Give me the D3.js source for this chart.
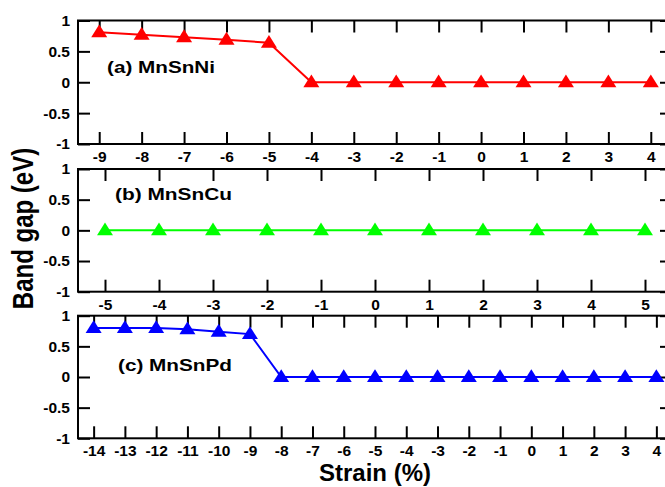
<!DOCTYPE html>
<html>
<head>
<meta charset="utf-8">
<script src="https://cdn.jsdelivr.net/npm/d3@7"></script>
<style>
  html, body { margin: 0; padding: 0; background: #fff; }
  svg { display: block; }
  text { font-family: "Liberation Sans", Arial, Helvetica, sans-serif; font-weight: bold; fill: #000; }
</style>
</head>
<body>
<svg id="chart" width="665" height="487"></svg>
<script>
// ---- Data ----
const strainA = [-9, -8, -7, -6, -5, -4, -3, -2, -1, 0, 1, 2, 3, 4];
const gapA    = [0.81, 0.77, 0.73, 0.69, 0.64, 0, 0, 0, 0, 0, 0, 0, 0, 0];

const strainB = [-5, -4, -3, -2, -1, 0, 1, 2, 3, 4, 5];
const gapB    = [0, 0, 0, 0, 0, 0, 0, 0, 0, 0, 0];

const strainC = [-14, -13, -12, -11, -10, -9, -8, -7, -6, -5, -4, -3, -2, -1, 0, 1, 2, 3, 4];
const gapC    = [0.80, 0.80, 0.80, 0.78, 0.74, 0.70, 0, 0, 0, 0, 0, 0, 0, 0, 0, 0, 0, 0, 0];

const yTicks      = [-1, -0.5, 0, 0.5, 1];
const yTickLabels = ["-1", "-0.5", "0", "0.5", "1"];

const panelLabels = ["(a) MnSnNi", "(b) MnSnCu", "(c) MnSnPd"];
const seriesColors = ["#ff0000", "#00ff00", "#0000ff"];
const xTitle = "Strain (%)";
const yTitle = "Band gap (eV)";

// ---- Layout ----
const svg = d3.select("#chart");
const xLeft = 78, xRight = 672;
const panels = [
  { strain: strainA, gap: gapA, domain: [-9.5, 4.5],  top: 20.5,  bottom: 144,   label: panelLabels[0], color: seriesColors[0], lx: 107, ly: 73,  lw: 108 },
  { strain: strainB, gap: gapB, domain: [-5.5, 5.5],  top: 169,   bottom: 291.7, label: panelLabels[1], color: seriesColors[1], lx: 115, ly: 200, lw: 117 },
  { strain: strainC, gap: gapC, domain: [-14.5, 4.5], top: 315.7, bottom: 438.3, label: panelLabels[2], color: seriesColors[2], lx: 118, ly: 371, lw: 114 }
];

const triangle = {
  draw(ctx) {
    ctx.moveTo(0, -7.8);
    ctx.lineTo(8, 5);
    ctx.lineTo(-8, 5);
    ctx.closePath();
  }
};

const fmtY = d => yTickLabels[yTicks.indexOf(d)];
const fmtX = d => String(d).replace("\u2212", "-");

panels.forEach(p => {
  const x = d3.scaleLinear().domain(p.domain).range([xLeft, xRight]);
  const y = d3.scaleLinear().domain([-1, 1]).range([p.bottom, p.top]);
  const g = svg.append("g");

  // axes
  const styleAxis = sel => {
    sel.select(".domain").remove();
    sel.selectAll(".tick line").attr("stroke", "#000").attr("stroke-width", 2);
    sel.selectAll(".tick text").attr("fill", "#000").style("font-size", "15.5px").style("font-weight", "bold");
  };

  g.append("g").attr("transform", `translate(0,${p.bottom})`)
    .call(d3.axisBottom(x).tickValues(p.strain).tickSize(-12).tickPadding(7).tickFormat(fmtX))
    .call(styleAxis);
  g.append("g").attr("transform", `translate(0,${p.top})`)
    .call(d3.axisTop(x).tickValues(p.strain).tickSize(-12).tickFormat(""))
    .call(styleAxis);
  g.append("g").attr("transform", `translate(${xLeft},0)`)
    .call(d3.axisLeft(y).tickValues(yTicks).tickSize(-12).tickPadding(8).tickFormat(fmtY))
    .call(styleAxis);
  g.append("g").attr("transform", `translate(${xRight},0)`)
    .call(d3.axisRight(y).tickValues(yTicks).tickSize(-12).tickFormat(""))
    .call(styleAxis);

  // frame
  g.append("rect")
    .attr("x", xLeft).attr("y", p.top)
    .attr("width", xRight - xLeft).attr("height", p.bottom - p.top)
    .attr("fill", "none").attr("stroke", "#000").attr("stroke-width", 2);

  // line
  const pts = p.strain.map((s, i) => [s, p.gap[i]]);
  g.append("path")
    .datum(pts)
    .attr("fill", "none")
    .attr("stroke", p.color)
    .attr("stroke-width", 2)
    .attr("d", d3.line().x(d => x(d[0])).y(d => y(d[1])));

  // markers
  g.selectAll("path.marker")
    .data(pts)
    .join("path")
    .attr("class", "marker")
    .attr("transform", d => `translate(${x(d[0])},${y(d[1])})`)
    .attr("fill", p.color)
    .attr("d", d3.symbol().type(triangle));

  // panel label
  g.append("text")
    .attr("x", p.lx).attr("y", p.ly)
    .attr("textLength", p.lw)
    .attr("lengthAdjust", "spacingAndGlyphs")
    .style("font-size", "17px")
    .text(p.label);
});

// axis titles
svg.append("text")
  .attr("x", (xLeft + xRight) / 2)
  .attr("y", 481)
  .attr("text-anchor", "middle")
  .style("font-size", "24px")
  .text(xTitle);

svg.append("text")
  .attr("transform", "translate(33,228.5) scale(1.2,1) rotate(-90)")
  .attr("text-anchor", "middle")
  .style("font-size", "24px")
  .text(yTitle);
</script>
</body>
</html>
